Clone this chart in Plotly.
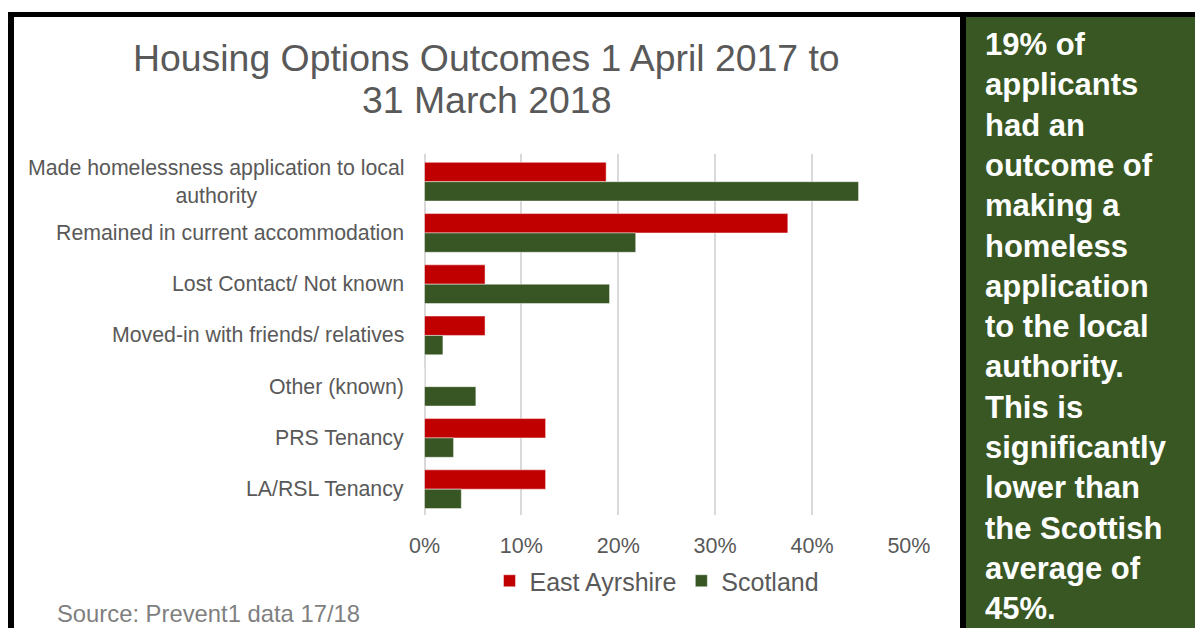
import plotly.graph_objects as go

# Outcome categories, top to bottom
categories = [
    "Made homelessness application to local<br>authority",
    "Remained in current accommodation",
    "Lost Contact/ Not known",
    "Moved-in with friends/ relatives",
    "Other (known)",
    "PRS Tenancy",
    "LA/RSL Tenancy",
]
east_ayrshire = [18.75, 37.5, 6.25, 6.25, 0.0, 12.5, 12.5]
scotland = [44.8, 21.8, 19.1, 1.9, 5.3, 3.0, 3.8]

x_ticks = [0, 10, 20, 30, 40, 50]
x_tick_labels = ["0%", "10%", "20%", "30%", "40%", "50%"]

title_lines = ["Housing Options Outcomes 1 April 2017 to", "31 March 2018"]

panel_lines = [
    "19% of", "applicants", "had an", "outcome of", "making a",
    "homeless", "application", "to the local", "authority.", "This is",
    "significantly", "lower than", "the Scottish", "average of", "45%.",
]

W, H = 1195, 628
RED = "#C00000"
GREEN = "#375623"
PANEL = "#395723"
TEXT = "#595959"
FONT = "Liberation Sans, Arial, sans-serif"


def px(x):
    return x / W


def py(y):
    return 1 - y / H


fig = go.Figure()
fig.add_trace(go.Bar(
    name="East Ayrshire", y=categories, x=east_ayrshire, orientation="h",
    marker=dict(color=RED, line=dict(color="rgba(255,255,255,0.45)", width=1)),
))
fig.add_trace(go.Bar(
    name="Scotland", y=categories, x=scotland, orientation="h",
    marker=dict(color=GREEN, line=dict(color="rgba(255,255,255,0.45)", width=1)),
))

# category labels, centred multi-line text right-aligned to the axis
annotations = []
for cat in categories:
    annotations.append(dict(
        x=px(406), xref="paper", y=cat, yref="y", xanchor="right",
        yanchor="middle", align="center", text=cat, showarrow=False,
        font=dict(family=FONT, size=21.3, color=TEXT),
    ))

annotations.append(dict(
    x=px(55), y=py(613), xref="paper", yref="paper", xanchor="left",
    yanchor="middle", text="Source: Prevent1 data 17/18", showarrow=False,
    font=dict(family=FONT, size=23.8, color="#7F7F7F"),
))

# two-line chart title
for line, yc in zip(title_lines, [58, 100]):
    annotations.append(dict(
        x=px(487), y=py(yc), xref="paper", yref="paper", xanchor="center",
        yanchor="middle", showarrow=False, text=line,
        font=dict(family=FONT, size=37.4, color=TEXT),
    ))

annotations.append(dict(
    x=px(983), y=py(326), xref="paper", yref="paper", xanchor="left",
    yanchor="middle", align="left", showarrow=False,
    text="<br>".join(panel_lines),
    font=dict(family=FONT, size=31, color="white", weight="bold"),
))

shapes = [
    # green side panel
    dict(type="rect", xref="paper", yref="paper", x0=px(963), x1=1.0,
         y0=0, y1=py(14), fillcolor=PANEL, line=dict(width=0), layer="below"),
    # black frame lines
    dict(type="rect", xref="paper", yref="paper", x0=px(8), x1=1.0,
         y0=py(17), y1=py(12), fillcolor="black", line=dict(width=0)),
    dict(type="rect", xref="paper", yref="paper", x0=px(8), x1=px(14),
         y0=0, y1=py(12), fillcolor="black", line=dict(width=0)),
    dict(type="rect", xref="paper", yref="paper", x0=px(960), x1=px(966),
         y0=0, y1=py(12), fillcolor="black", line=dict(width=0)),
]

fig.update_layout(
    width=W, height=H,
    margin=dict(l=0, r=0, t=0, b=0, pad=0, autoexpand=False),
    paper_bgcolor="white", plot_bgcolor="white",
    barmode="group", bargap=0.245, bargroupgap=0,
    font=dict(family=FONT, color=TEXT),
    showlegend=True,
    legend=dict(
        orientation="h", x=px(657), xanchor="center", y=py(581),
        yanchor="middle", font=dict(family=FONT, size=25, color=TEXT),
        itemwidth=30, traceorder="normal", bgcolor="rgba(0,0,0,0)",
    ),
    xaxis=dict(
        domain=[px(424.5), px(909)], range=[0, 50.01],
        tickvals=x_ticks, ticktext=x_tick_labels,
        showgrid=True, gridcolor="#D9D9D9", gridwidth=1.5,
        zeroline=True, zerolinecolor="#D9D9D9", zerolinewidth=1.5,
        showline=False, ticks="outside", ticklen=11,
        tickcolor="rgba(0,0,0,0)",
        tickfont=dict(family=FONT, size=21.5, color=TEXT),
    ),
    yaxis=dict(
        domain=[py(514.8), py(153.7)], autorange="reversed",
        showticklabels=False, showgrid=False, zeroline=False, showline=False,
    ),
    annotations=annotations,
    shapes=shapes,
)

fig.write_html("out.html")
